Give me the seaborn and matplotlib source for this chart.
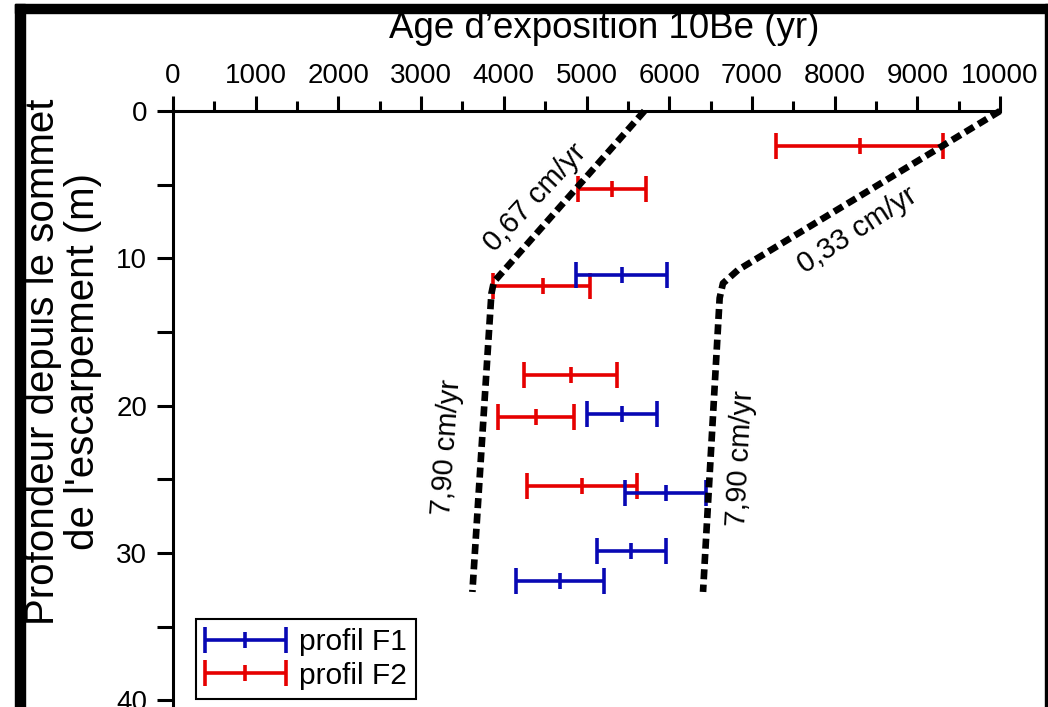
import numpy as np
import pandas as pd
import matplotlib
matplotlib.use("Agg")
import matplotlib.pyplot as plt
import seaborn as sns
from matplotlib.container import ErrorbarContainer
from matplotlib.legend_handler import HandlerErrorbar
from matplotlib.ticker import MultipleLocator
from matplotlib.patches import Rectangle

# ---------------- data ----------------
series_labels = ["profil F1", "profil F2"]

depth_f1 = [11.1, 20.6, 25.95, 29.85, 31.9]
age_f1 = [5425, 5428, 5959, 5535, 4677]
age_f1_min = [4872, 5004, 5471, 5132, 4147]
age_f1_max = [5969, 5852, 6445, 5959, 5216]

depth_f2 = [2.35, 5.3, 11.9, 17.9, 20.75, 25.45]
age_f2 = [8307, 5305, 4470, 4813, 4389, 4949]
age_f2_min = [7295, 4897, 3870, 4240, 3935, 4283]
age_f2_max = [9308, 5725, 5042, 5374, 4848, 5611]

trend_left_age = [5700, 3880, 3850, 3620]
trend_left_depth = [0, 11.6, 12.4, 32.65]
trend_right_age = [10000, 6830, 6650, 6610, 6409]
trend_right_depth = [0, 10.8, 11.7, 12.7, 32.65]

rate_labels = ["0,67 cm/yr", "0,33 cm/yr", "7,90 cm/yr", "7,90 cm/yr"]
rate_label_age = [4380, 8271, 3313, 6868]
rate_label_depth = [5.9, 8.1, 22.8, 23.6]
rate_label_angle = [47, 33, 86, 87]

x_ticks = [0, 1000, 2000, 3000, 4000, 5000, 6000, 7000, 8000, 9000, 10000]
y_ticks = [0, 10, 20, 30, 40]

x_title = "Age d\u2019exposition 10Be (yr)"
y_title = "Profondeur depuis le sommet\nde l'escarpement (m)"

# ---------------- style ----------------
sns.set_theme(style="white")
plt.rcParams["font.family"] = ["Liberation Sans", "DejaVu Sans"]
plt.rcParams["text.color"] = "black"
plt.rcParams["axes.labelcolor"] = "black"
plt.rcParams["xtick.color"] = "black"
plt.rcParams["ytick.color"] = "black"

BLUE = "#0808B4"
RED = "#E60000"

W, H = 1048, 707
fig = plt.figure(figsize=(W / 100, H / 100), dpi=100)
fig.patch.set_facecolor("white")
ax = fig.add_axes([173 / W, 0, 827 / W, 596 / H])
ax.set_facecolor("white")

# dashed trend lines
df_left = pd.DataFrame({"age": trend_left_age, "depth": trend_left_depth})
df_right = pd.DataFrame({"age": trend_right_age, "depth": trend_right_depth})
for df in (df_left, df_right):
    sns.lineplot(data=df, x="age", y="depth", sort=False, estimator=None,
                 color="black", linewidth=4.8, linestyle=(0, (1.5, 0.8)),
                 ax=ax, clip_on=False, zorder=4)

# error bars
def draw(age, amin, amax, depth, color, label):
    age = np.asarray(age, float)
    lo = age - np.asarray(amin, float)
    hi = np.asarray(amax, float) - age
    return ax.errorbar(age, depth, xerr=[lo, hi], fmt="|", color=color,
                       ecolor=color, elinewidth=2.6, capsize=9.5, capthick=2.6,
                       markersize=12, markeredgewidth=2.6, label=label, zorder=3)

eb2 = draw(age_f2, age_f2_min, age_f2_max, depth_f2, RED, series_labels[1])
eb1 = draw(age_f1, age_f1_min, age_f1_max, depth_f1, BLUE, series_labels[0])

# rate annotations
for s, xa, yd, ang in zip(rate_labels, rate_label_age, rate_label_depth, rate_label_angle):
    ax.text(xa, yd, s, rotation=ang, rotation_mode="anchor", ha="center",
            va="center", fontsize=21, color="black", zorder=5)

# axes
ax.set_xlim(0, 10000)
ax.set_ylim((H - 111) / 14.73, 0)
ax.set_xticks(x_ticks)
ax.set_xticklabels([str(t) for t in x_ticks])
ax.set_yticks(y_ticks)
ax.set_yticklabels([str(t) for t in y_ticks])
ax.xaxis.set_minor_locator(MultipleLocator(500))
ax.yaxis.set_minor_locator(MultipleLocator(5))
ax.xaxis.tick_top()
ax.tick_params(axis="x", which="major", top=True, bottom=False, labeltop=True,
               labelbottom=False, direction="out", length=11, width=2.2,
               pad=5, labelsize=20)
ax.tick_params(axis="x", which="minor", top=True, bottom=False,
               direction="out", length=7.5, width=2.2)
ax.tick_params(axis="y", which="both", left=True, right=False, direction="out",
               length=11.5, width=2.2, pad=7, labelsize=20)

for side in ("bottom", "right"):
    ax.spines[side].set_visible(False)
for side in ("top", "left"):
    ax.spines[side].set_visible(True)
    ax.spines[side].set_color("black")
    ax.spines[side].set_linewidth(2.2)

ax.set_xlabel(x_title, fontsize=26.5)
ax.xaxis.set_label_position("top")
ax.xaxis.set_label_coords(0.521, (H - 38) / 596)
ax.xaxis.label.set_verticalalignment("baseline")

ax.set_ylabel(y_title, fontsize=29, linespacing=1.08)
ax.yaxis.set_label_coords(-0.133, (H - 362) / 596)
ax.yaxis.label.set_verticalalignment("center")

# legend
leg = ax.legend([eb1, eb2], series_labels,
                handler_map={ErrorbarContainer: HandlerErrorbar(xerr_size=1.35)},
                loc="upper left", bbox_to_anchor=(196 / W, 1 - 619 / H),
                bbox_transform=fig.transFigure, borderaxespad=0,
                frameon=True, fancybox=False, edgecolor="black", framealpha=1,
                fontsize=21.5, handlelength=2.7, handletextpad=0.45,
                borderpad=0.3, labelspacing=0.2)
leg.get_frame().set_linewidth(1.5)

# figure frame
fig.add_artist(Rectangle((15 / W, 0), 10 / W, 1 - 4 / H, transform=fig.transFigure,
                         color="black", zorder=10))
fig.add_artist(Rectangle((15 / W, 1 - 13 / H), 1 - 15 / W, 9 / H,
                         transform=fig.transFigure, color="black", zorder=10))
fig.add_artist(Rectangle((1045 / W, 0), 3 / W, 1 - 4 / H, transform=fig.transFigure,
                         color="black", zorder=10))

fig.savefig("out.png", dpi=100)
